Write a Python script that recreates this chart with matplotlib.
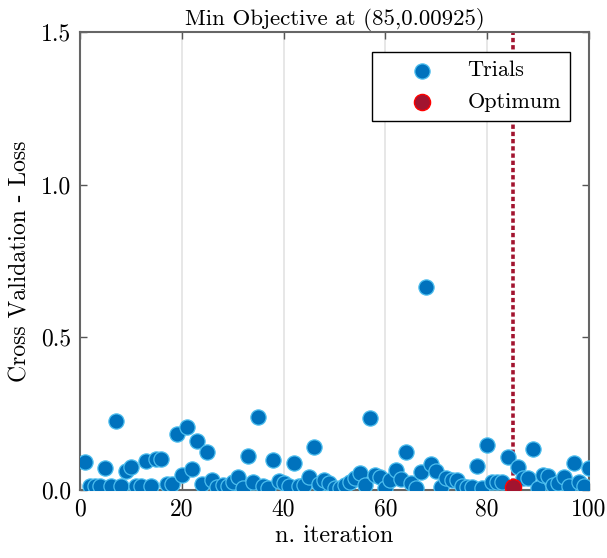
import matplotlib
matplotlib.use("Agg")
import matplotlib.pyplot as plt
import numpy as np

iterations = list(range(1, 101))
loss = [0.093, 0.012, 0.012, 0.013, 0.073, 0.012, 0.227, 0.012, 0.062, 0.076,
        0.014, 0.012, 0.096, 0.012, 0.103, 0.103, 0.020, 0.019, 0.182, 0.049,
        0.207, 0.070, 0.160, 0.020, 0.124, 0.033, 0.009, 0.016, 0.014, 0.027,
        0.042, 0.006, 0.110, 0.027, 0.240, 0.013, 0.006, 0.098, 0.030, 0.024,
        0.013, 0.090, 0.013, 0.016, 0.044, 0.140, 0.019, 0.033, 0.024, 0.006,
        0.006, 0.016, 0.027, 0.038, 0.057, 0.016, 0.235, 0.049, 0.044, 0.006,
        0.033, 0.066, 0.036, 0.123, 0.022, 0.008, 0.060, 0.665, 0.084, 0.063,
        0.009, 0.038, 0.033, 0.033, 0.013, 0.009, 0.009, 0.079, 0.006, 0.147,
        0.027, 0.027, 0.027, 0.109, 0.00925, 0.076, 0.038, 0.040, 0.133, 0.008,
        0.049, 0.046, 0.016, 0.022, 0.044, 0.013, 0.090, 0.027, 0.013, 0.071]
opt_iter = 85
opt_loss = 0.00925
x_ticks = [0, 20, 40, 60, 80, 100]
y_ticks = [0.0, 0.5, 1.0, 1.5]

plt.rcParams['font.family'] = 'serif'
plt.rcParams['font.serif'] = ['cmr10', 'DejaVu Serif']
plt.rcParams['axes.formatter.use_mathtext'] = True

fig = plt.figure(figsize=(6.07, 5.58), dpi=100)
ax = fig.add_axes([80/607, 1 - 490/558, (589-80)/607, (490-32)/558])

ax.grid(axis='x', color='#e3e3e3', linewidth=1.2, zorder=0)
ax.axvline(opt_iter, color='#A2142F', linestyle=(0, (1.2, 0.8)), linewidth=2.6, zorder=2)
ax.scatter(iterations, loss, s=120, color='#0072BD', edgecolors='#4DBEEE',
           linewidths=0.9, zorder=3, label='Trials')
ax.scatter([opt_iter], [opt_loss], s=135, color='#A2142F', edgecolors='#FF0000',
           linewidths=1.0, zorder=4, label='Optimum')

ax.set_xlim(0, 100)
ax.set_ylim(0, 1.5)
ax.set_xticks(x_ticks)
ax.set_xticklabels([str(t) for t in x_ticks])
ax.set_yticks(y_ticks)
ax.set_yticklabels([f"{t:.1f}" for t in y_ticks])
ax.tick_params(direction='in', length=5, width=1, color='#555555',
               labelsize=17, top=True, right=True, pad=6)
for sp in ax.spines.values():
    sp.set_color('#666666')
    sp.set_linewidth(1.5)

ax.set_title('Min Objective at (85,0.00925)', fontsize=16.5, pad=5)
ax.set_xlabel('n. iteration', fontsize=17.5, labelpad=3)
ax.set_ylabel('Cross Validation - Loss', fontsize=17, labelpad=7)

leg = ax.legend(loc='upper right', bbox_to_anchor=(570/607, 1 - 52/558),
                bbox_transform=fig.transFigure, fontsize=16, fancybox=False,
                edgecolor='black', framealpha=1, borderpad=0.4,
                handletextpad=0.2, labelspacing=0.55, borderaxespad=0,
                handlelength=3.7)
leg.get_frame().set_linewidth(1.0)

fig.savefig('out.png', dpi=100)
